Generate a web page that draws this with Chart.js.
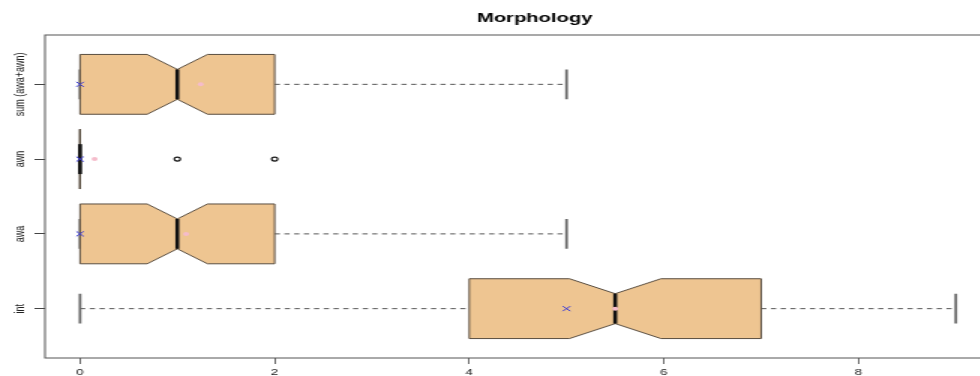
<!DOCTYPE html>
<html><head><meta charset="utf-8">
<script src="https://cdn.jsdelivr.net/npm/chart.js@4.4.0/dist/chart.umd.min.js"></script>
<style>
html,body{margin:0;padding:0;background:#fff;overflow:hidden;width:980px;height:376px}
#c{display:block;transform:scaleX(1.5);transform-origin:0 0}
</style>
</head><body>
<canvas id="c" width="713" height="376"></canvas>
<script>
// Categories listed bottom to top
const categories = ['int', 'awa', 'awn', 'sum (awa+awn)'];
const whiskerLow  = [0, 0, 0, 0];
const q1          = [4, 0, 0, 0];
const medians     = [5.5, 1, 0, 1];
const q3          = [7, 2, 0, 2];
const whiskerHigh = [9, 5, 0, 5];
const notchLow    = [5.03, 0.69, 0, 0.69];
const notchHigh   = [5.97, 1.31, 0, 1.31];
const means       = [5.5, 1.09, 0.15, 1.24];
const modes       = [5, 0, 0, 0];
const outliers    = [[], [], [1, 2], []];
const xTicks      = [0, 2, 4, 6, 8];
const chartTitle  = 'Morphology';

const framePlugin = {
  id: 'frameAndBoxes',
  beforeDatasetsDraw(chart) {
    const {ctx, chartArea: a, scales: {x, y}} = chart;
    ctx.save();
    ctx.strokeStyle = '#555';
    ctx.lineWidth = 1;
    ctx.strokeRect(a.left, a.top, a.right - a.left, a.bottom - a.top);
    const half = Math.abs(y.getPixelForValue(0.4) - y.getPixelForValue(0));
    const px = v => x.getPixelForValue(v);
    categories.forEach((c, i) => {
      const yc = y.getPixelForValue(i + 1);
      // whiskers
      ctx.strokeStyle = '#555';
      ctx.lineWidth = 1;
      ctx.setLineDash([3.5, 3]);
      ctx.beginPath();
      ctx.moveTo(px(whiskerLow[i]), yc); ctx.lineTo(px(q1[i]), yc);
      ctx.moveTo(px(q3[i]), yc); ctx.lineTo(px(whiskerHigh[i]), yc);
      ctx.stroke();
      ctx.setLineDash([]);
      // staples
      ctx.strokeStyle = '#6a6a6a';
      ctx.lineWidth = 1.8;
      ctx.beginPath();
      [whiskerLow[i], whiskerHigh[i]].forEach(v => {
        ctx.moveTo(px(v), yc - half / 2); ctx.lineTo(px(v), yc + half / 2);
      });
      ctx.stroke();
      // notched box
      const t = yc - half, b = yc + half, d = half / 2;
      ctx.beginPath();
      ctx.moveTo(px(q1[i]), t);
      ctx.lineTo(px(notchLow[i]), t);
      ctx.lineTo(px(medians[i]), t + d);
      ctx.lineTo(px(notchHigh[i]), t);
      ctx.lineTo(px(q3[i]), t);
      ctx.lineTo(px(q3[i]), b);
      ctx.lineTo(px(notchHigh[i]), b);
      ctx.lineTo(px(medians[i]), b - d);
      ctx.lineTo(px(notchLow[i]), b);
      ctx.lineTo(px(q1[i]), b);
      ctx.closePath();
      ctx.fillStyle = '#EEC591';
      ctx.fill();
      ctx.strokeStyle = '#5a4e40';
      ctx.lineWidth = 1;
      ctx.stroke();
      // median
      ctx.strokeStyle = '#111';
      ctx.lineWidth = 2.6;
      ctx.beginPath();
      ctx.moveTo(px(medians[i]), t + d); ctx.lineTo(px(medians[i]), b - d);
      ctx.stroke();
    });
    ctx.restore();
  },
  afterDraw(chart) {
    const {ctx, scales: {y}} = chart;
    ctx.save();
    ctx.fillStyle = '#222';
    ctx.font = '9px "Liberation Sans", Arial, sans-serif';
    ctx.textAlign = 'center';
    ctx.textBaseline = 'middle';
    categories.forEach((c, i) => {
      ctx.save();
      ctx.translate(13.3, y.getPixelForValue(i + 1));
      ctx.rotate(-Math.PI / 2);
      ctx.fillText(c, 0, 0);
      ctx.restore();
    });
    ctx.restore();
  }
};

new Chart(document.getElementById('c'), {
  type: 'scatter',
  data: {
    datasets: [
      {label: 'mean', data: means.map((v, i) => ({x: v, y: i + 1})),
       pointStyle: 'circle', pointRadius: 2, backgroundColor: '#f5bccb', borderColor: '#f5bccb', borderWidth: 0},
      {label: 'mode', data: modes.map((v, i) => ({x: v, y: i + 1})),
       pointStyle: 'crossRot', pointRadius: 3.5, borderColor: '#3a3ad6', backgroundColor: '#3a3ad6', borderWidth: 1},
      {label: 'outliers', data: outliers.flatMap((arr, i) => arr.map(v => ({x: v, y: i + 1}))),
       pointStyle: 'circle', pointRadius: 2, backgroundColor: 'rgba(0,0,0,0)', borderColor: '#111', borderWidth: 1.1}
    ]
  },
  options: {
    responsive: false,
    animation: false,
    devicePixelRatio: 1,
    layout: {padding: 0},
    plugins: {
      legend: {display: false},
      tooltip: {enabled: false},
      title: {display: true, text: chartTitle, color: '#000',
        font: {family: '"Liberation Sans", Arial, sans-serif', size: 13.5, weight: 'bold'},
        padding: {top: 10, bottom: 8.8}}
    },
    scales: {
      x: {type: 'linear', min: -0.36, max: 10.09,
        afterBuildTicks: s => { s.ticks = xTicks.map(v => ({value: v})); },
        afterFit: s => { s.height = 18; },
        ticks: {color: '#222', padding: 3, maxRotation: 0,
          font: {family: '"Liberation Sans", Arial, sans-serif', size: 9}},
        grid: {drawOnChartArea: false, tickLength: 6, color: '#444', lineWidth: 0.8},
        border: {display: false}},
      y: {type: 'linear', min: 0.34, max: 4.66,
        afterBuildTicks: s => { s.ticks = categories.map((c, i) => ({value: i + 1})); },
        afterFit: s => { s.width = 30; },
        ticks: {display: false},
        grid: {drawOnChartArea: false, tickLength: 7, color: '#444', lineWidth: 1},
        border: {display: false}}
    }
  },
  plugins: [framePlugin]
});
</script>
</body></html>
